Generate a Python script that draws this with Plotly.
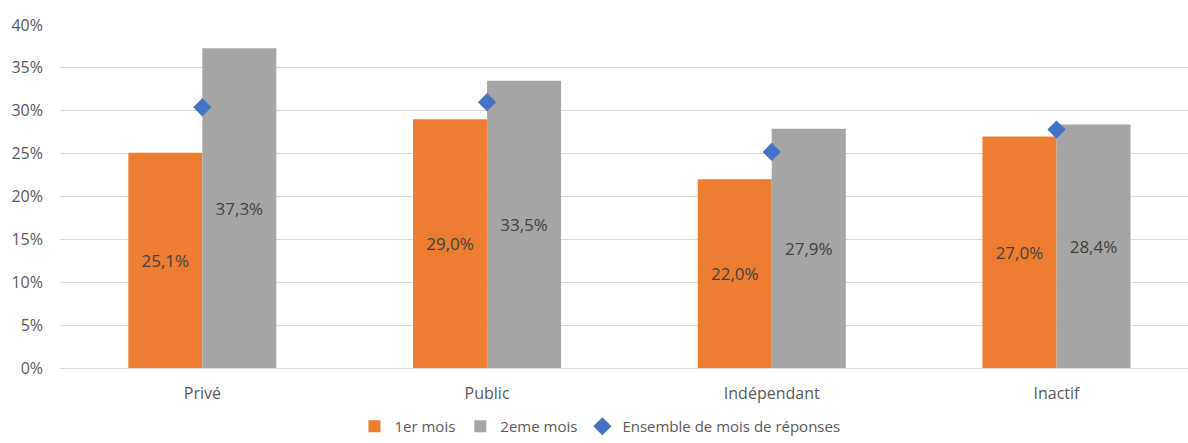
import plotly.graph_objects as go

# Response rates by employment status
categories = ["Privé", "Public", "Indépendant", "Inactif"]
mois_1 = [25.1, 29.0, 22.0, 27.0]
mois_2 = [37.3, 33.5, 27.9, 28.4]
ensemble = [30.4, 31.0, 25.2, 27.8]
y_ticks = [0, 5, 10, 15, 20, 25, 30, 35, 40]


def fr_pct(v):
    return f"{v:.1f}%".replace(".", ",")


font_family = "Open Sans, Noto Sans, sans-serif"
label_font = dict(family=font_family, size=17, color="#404040")
axis_font = dict(family=font_family, size=16, color="#595959")

fig = go.Figure()
fig.add_trace(go.Bar(
    x=categories, y=mois_1, name="1er mois",
    marker=dict(color="#ED7D31", line=dict(width=0)),
    text=[fr_pct(v) for v in mois_1], textposition="inside",
    insidetextanchor="middle", textfont=label_font, textangle=0,
))
fig.add_trace(go.Bar(
    x=categories, y=mois_2, name="2eme mois",
    marker=dict(color="#A5A5A5", line=dict(width=0)),
    text=[fr_pct(v) for v in mois_2], textposition="inside",
    insidetextanchor="middle", textfont=label_font, textangle=0,
))
fig.add_trace(go.Scatter(
    x=categories, y=ensemble, name="Ensemble de mois de réponses",
    mode="markers",
    marker=dict(symbol="diamond", size=14, color="#4472C4"),
))

fig.update_layout(
    width=1188, height=443,
    margin=dict(l=60, r=0, t=25, b=75),
    paper_bgcolor="white", plot_bgcolor="white",
    barmode="group", bargap=0.48, bargroupgap=0,
    separators=", ",
    font=dict(family=font_family, size=16, color="#595959"),
    showlegend=True,
    hovermode=False,
    legend=dict(
        orientation="h", xref="container", yref="container",
        x=0.505, xanchor="center", y=-0.008, yanchor="bottom",
        font=dict(family=font_family, size=15, color="#595959"),
        itemwidth=30, traceorder="normal",
        borderwidth=0, bgcolor="rgba(0,0,0,0)",
    ),
    uniformtext=dict(mode=False),
)
fig.update_xaxes(
    range=[-0.5, 3.462], showgrid=False, showline=False, ticks="",
    ticklabelstandoff=14, tickfont=axis_font,
)
fig.update_yaxes(
    range=[0, 40], tickvals=y_ticks, ticktext=[f"{t}%" for t in y_ticks],
    showgrid=True, gridcolor="#D9D9D9", gridwidth=1.3,
    zeroline=True, zerolinecolor="#D9D9D9", zerolinewidth=1.3,
    showline=False, ticks="", ticklabelstandoff=16,
    tickfont=axis_font,
)

fig.write_html("out.html")
